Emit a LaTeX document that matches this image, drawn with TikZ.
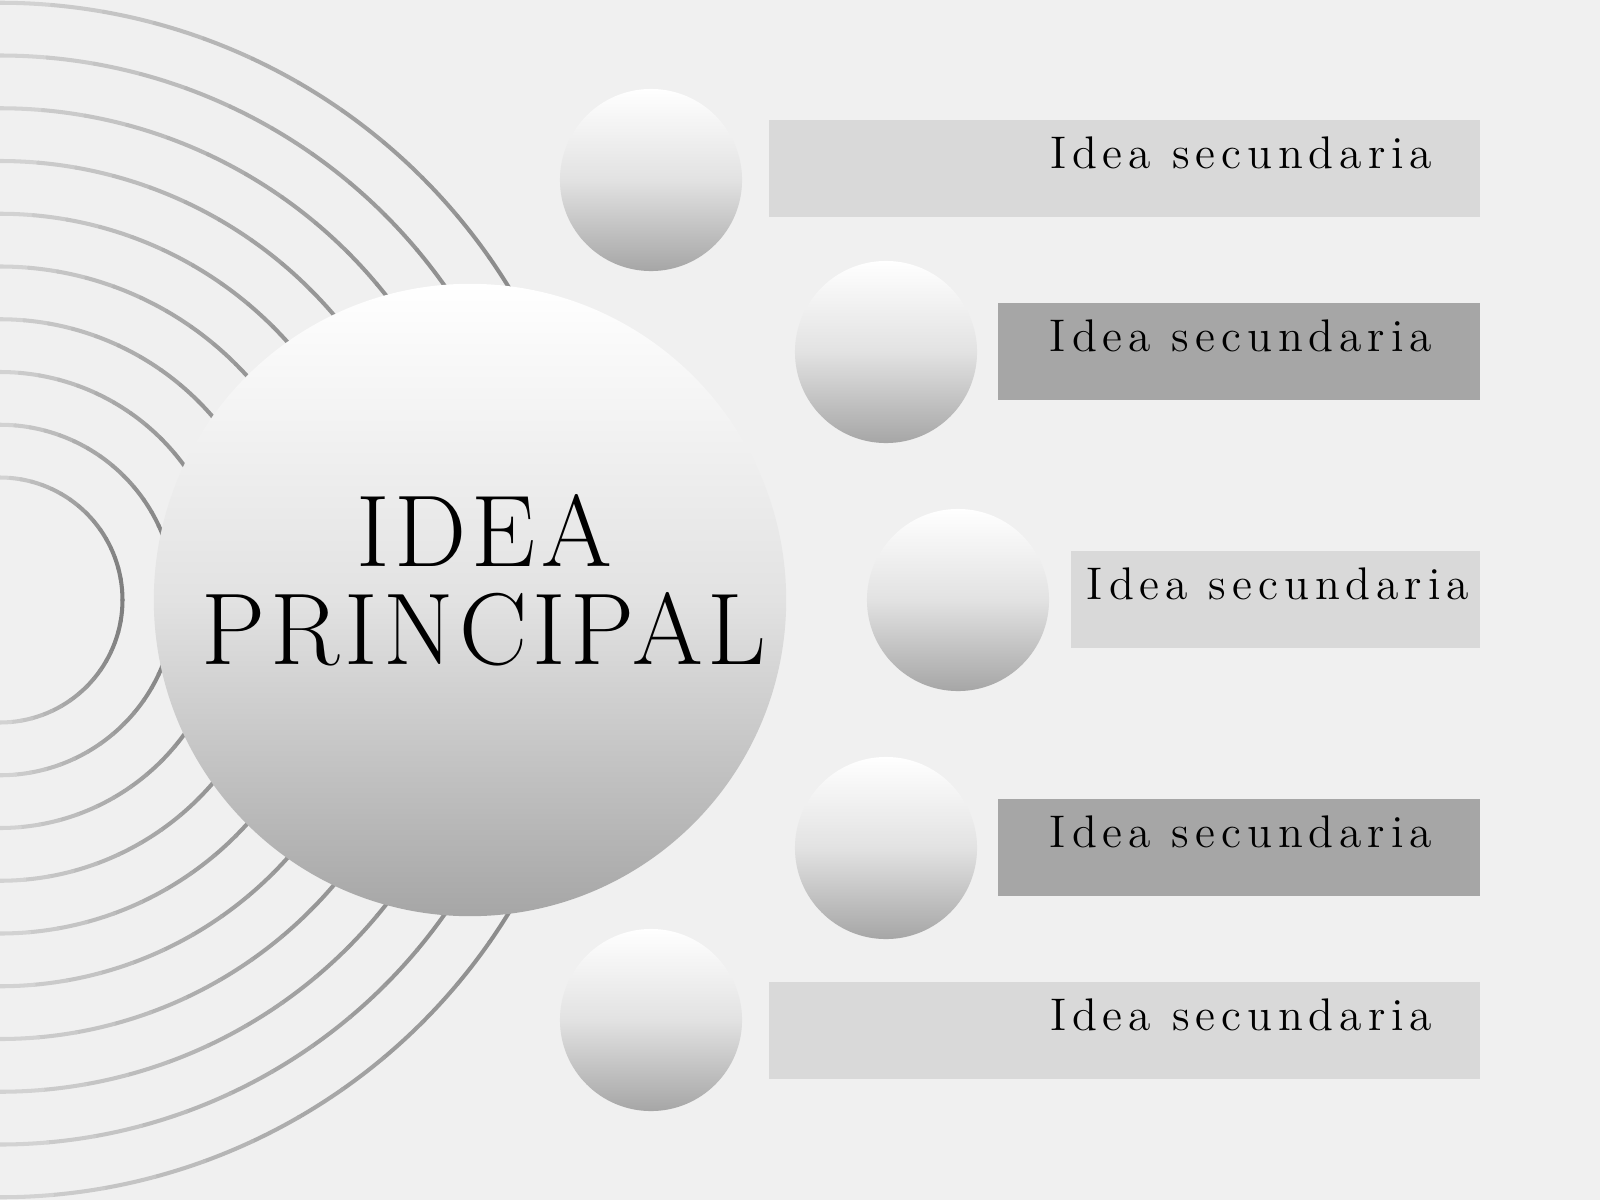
\documentclass[tikz,border=0pt]{standalone}
\usepackage{fontspec}
\usepackage{xcolor}
\usetikzlibrary{positioning, shapes.geometric}
\newfontfamily\panelfont{Latin Modern Roman}[LetterSpace=13]
\newfontfamily\titlefont{Latin Modern Roman}[LetterSpace=5]
\definecolor{bg}{HTML}{F0F0F0}
\definecolor{arclight}{HTML}{D6D6D6}
\definecolor{arcdark}{HTML}{7E7E7E}
\definecolor{panellight}{HTML}{D9D9D9}
\definecolor{paneldark}{HTML}{A6A6A6}
\definecolor{ballmid}{HTML}{E2E2E2}
\definecolor{balldark}{HTML}{A6A6A6}
\tikzset{
  ball/.style={circle, draw=none, inner sep=0pt, top color=white, bottom color=balldark, middle color=ballmid},
  panel/.style={rectangle, draw=none, inner sep=0pt, minimum height=0.97cm},
  paneltext/.style={anchor=base east, inner sep=0pt, font=\panelfont\fontsize{13}{15}\selectfont}
}
\begin{document}
\begin{tikzpicture}[x=0.01cm, y=-0.01cm]
\useasboundingbox (0,0) rectangle (1600,1200);
\fill[bg] (0,0) rectangle (1600,1200);
% rings on the left
\foreach \k in {0,...,9}{
  \pgfmathsetmacro\r{122.5+52.75*\k}
  \foreach \a in {-90,-85,...,85}{
    \pgfmathtruncatemacro\p{100*cos(\a+2.5)}
    \draw[arcdark!\p!arclight, line width=1.15pt, line cap=round]
      (0,600) ++(\a:\r) arc[start angle=\a, end angle=\a+5, radius=\r];
  }
}
\node[ball, minimum size=6.32cm] (main) at (470,600) {};
\node[align=center, font=\titlefont\fontsize{29}{28}\selectfont] (maintext) at (484,580) {IDEA\\PRINCIPAL};
% secondary ideas
\node[ball, minimum size=1.82cm] (b1) at (651,180) {};
\node[ball, minimum size=1.82cm] (b2) at (886,352) {};
\node[ball, minimum size=1.82cm] (b3) at (958,600) {};
\node[ball, minimum size=1.82cm] (b4) at (886,848) {};
\node[ball, minimum size=1.82cm] (b5) at (651,1020) {};
\node[panel, fill=panellight, minimum width=7.11cm] (p1) at (1124.5,168.5) {};
\node[panel, fill=paneldark, minimum width=4.82cm] (p2) at (1239,351.5) {};
\node[panel, fill=panellight, minimum width=4.09cm] (p3) at (1275.5,599.5) {};
\node[panel, fill=paneldark, minimum width=4.82cm] (p4) at (1239,847.5) {};
\node[panel, fill=panellight, minimum width=7.11cm] (p5) at (1124.5,1030.5) {};
\node[paneltext] (t1) at ([xshift=-0.48cm, yshift=-0.49cm]p1.north east) {Idea secundaria};
\node[paneltext] (t2) at ([xshift=-0.48cm, yshift=-0.49cm]p2.north east) {Idea secundaria};
\node[paneltext] (t3) at ([xshift=-0.11cm, yshift=-0.49cm]p3.north east) {Idea secundaria};
\node[paneltext] (t4) at ([xshift=-0.48cm, yshift=-0.49cm]p4.north east) {Idea secundaria};
\node[paneltext] (t5) at ([xshift=-0.48cm, yshift=-0.49cm]p5.north east) {Idea secundaria};
\end{tikzpicture}
\end{document}
